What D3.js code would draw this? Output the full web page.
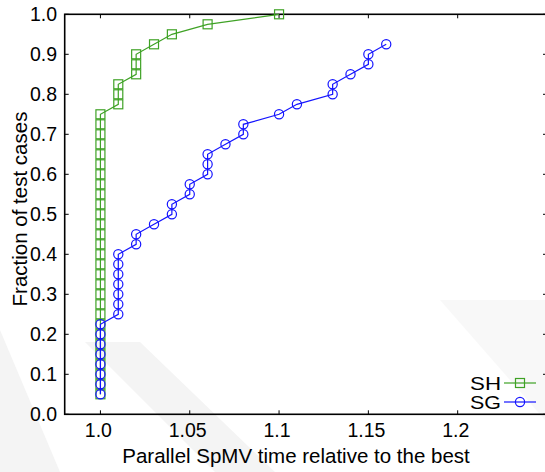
<!DOCTYPE html>
<html><head><meta charset="utf-8">
<script src="https://cdn.jsdelivr.net/npm/d3@7"></script>
<style>body{margin:0;background:#fff}svg{display:block}text{font-family:"Liberation Sans",Arial,sans-serif}</style>
</head><body><div id="chart"></div>
<script>
const xTicks = [1.0, 1.05, 1.1, 1.15, 1.2];
const xTickLabels = ["1.0", "1.05", "1.1", "1.15", "1.2"];
const yTicks = [0, 0.1, 0.2, 0.3, 0.4, 0.5, 0.6, 0.7, 0.8, 0.9, 1.0];
const seriesNames = ["SH", "SG"];
const shX = [1.0,1.0,1.0,1.0,1.0,1.0,1.0,1.0,1.0,1.0,1.0,1.0,1.0,1.0,1.0,1.0,1.0,1.0,1.0,1.0,1.0,1.0,1.0,1.0,1.0,1.0,1.0,1.0,1.0,
  1.01,1.01,1.01,1.02,1.02,1.02,1.03,1.04,1.06,1.1];
const shY = [0.05,0.075,0.1,0.125,0.15,0.175,0.2,0.225,0.25,0.275,0.3,0.325,0.35,0.375,0.4,0.425,0.45,0.475,0.5,0.525,0.55,0.575,0.6,0.625,0.65,0.675,0.7,0.725,0.75,
  0.775,0.8,0.825,0.85,0.875,0.9,0.925,0.95,0.975,1.0];
const sgX = [1.0,1.0,1.0,1.0,1.0,1.0,1.0,1.0,
  1.01,1.01,1.01,1.01,1.01,1.01,1.01,
  1.02,1.02,1.03,1.04,1.04,1.05,1.05,1.06,1.06,1.06,1.07,1.08,1.08,1.1,1.11,1.13,1.13,1.14,1.15,1.15,1.16];
const sgY = [0.05,0.075,0.1,0.125,0.15,0.175,0.2,0.225,
  0.25,0.275,0.3,0.325,0.35,0.375,0.4,
  0.425,0.45,0.475,0.5,0.525,0.55,0.575,0.6,0.625,0.65,0.675,0.7,0.725,0.75,0.775,0.8,0.825,0.85,0.875,0.9,0.925];

const W = 545, H = 472;
const svg = d3.select("#chart").append("svg").attr("width", W).attr("height", H);

// faint watermark bands
const wm = svg.append("g").attr("fill", "#f4f4f4");
wm.append("path").attr("d", "M0,330 L0,472 L60,472 Z");
wm.append("path").attr("d", "M85,342 L140,342 L275,472 L215,472 Z");
wm.append("path").attr("d", "M440,300 L545,300 L545,420 Z").attr("opacity", 0.6);

const x = d3.scaleLinear().domain([0.98, 1.25]).range([64.7, 547]);
const y = d3.scaleLinear().domain([0, 1]).range([414.3, 14.3]);

const ax = svg.append("g").attr("stroke", "#000");
const tl = 4;
xTicks.forEach(t => {
  ax.append("line").attr("x1", x(t)).attr("x2", x(t)).attr("y1", y(0)).attr("y2", y(0) - tl).attr("stroke-width", 1);
  ax.append("line").attr("x1", x(t)).attr("x2", x(t)).attr("y1", y(1)).attr("y2", y(1) + tl).attr("stroke-width", 1);
});
yTicks.forEach(t => {
  ax.append("line").attr("x1", x(0.98)).attr("x2", x(0.98) + tl).attr("y1", y(t)).attr("y2", y(t)).attr("stroke-width", 1);
  ax.append("line").attr("x1", x(1.25)).attr("x2", x(1.25) - tl).attr("y1", y(t)).attr("y2", y(t)).attr("stroke-width", 1);
});
ax.append("rect").attr("x", x(0.98)).attr("y", y(1)).attr("width", x(1.25) - x(0.98)).attr("height", y(0) - y(1))
  .attr("fill", "none").attr("stroke-width", 1.6);

const lbl = svg.append("g").attr("font-size", 19.5).attr("fill", "#000");
xTicks.forEach((t, i) => {
  lbl.append("text").attr("x", x(t) - 2).attr("y", y(0) + 23).attr("text-anchor", "middle").text(xTickLabels[i]);
});
yTicks.forEach(t => {
  lbl.append("text").attr("x", 57).attr("y", y(t) + 7).attr("text-anchor", "end").text(d3.format(".1f")(t));
});
lbl.append("text").attr("x", 296).attr("y", 463).attr("text-anchor", "middle").attr("font-size", 20.5).text("Parallel SpMV time relative to the best");
lbl.append("text").attr("transform", "translate(27,209) rotate(-90)").attr("text-anchor", "middle").attr("font-size", 20.5).text("Fraction of test cases");

const green = "#3fa225", blue = "#1414ff";
const line = d3.line().x(d => x(d[0])).y(d => y(d[1]));
const sh = shX.map((v, i) => [v, shY[i]]);
const sg = sgX.map((v, i) => [v, sgY[i]]);

const s = 9;
function squares(g, data, col) {
  g.selectAll("rect.m").data(data).join("rect").attr("class", "m")
    .attr("x", d => x(d[0]) - s / 2).attr("y", d => y(d[1]) - s / 2).attr("width", s).attr("height", s)
    .attr("fill", "none").attr("stroke", col).attr("stroke-width", 1.2);
}
function circles(g, data, col) {
  g.selectAll("circle.m").data(data).join("circle").attr("class", "m")
    .attr("cx", d => x(d[0])).attr("cy", d => y(d[1])).attr("r", 4.6)
    .attr("fill", "none").attr("stroke", col).attr("stroke-width", 1.2);
}
const gSH = svg.append("g");
gSH.append("path").attr("d", line(sh)).attr("fill", "none").attr("stroke", green).attr("stroke-width", 1.2);
squares(gSH, sh, green);
const gSG = svg.append("g");
gSG.append("path").attr("d", line(sg)).attr("fill", "none").attr("stroke", blue).attr("stroke-width", 1.2);
circles(gSG, sg, blue);

// legend
const leg = svg.append("g").attr("font-size", 19);
const cols = [green, blue];
seriesNames.forEach((n, i) => {
  const yy = 383 + i * 19;
  leg.append("text").attr("x", 501).attr("y", yy + 7).attr("text-anchor", "end")
    .attr("textLength", 31).attr("lengthAdjust", "spacingAndGlyphs").text(n);
  leg.append("line").attr("x1", 504).attr("x2", 536).attr("y1", yy).attr("y2", yy).attr("stroke", cols[i]).attr("stroke-width", 1.2);
  const gl = leg.append("g");
  if (i === 0) squares(gl, [[x.invert(520), y.invert(yy)]], cols[i]);
  else circles(gl, [[x.invert(520), y.invert(yy)]], cols[i]);
});
</script></body></html>
